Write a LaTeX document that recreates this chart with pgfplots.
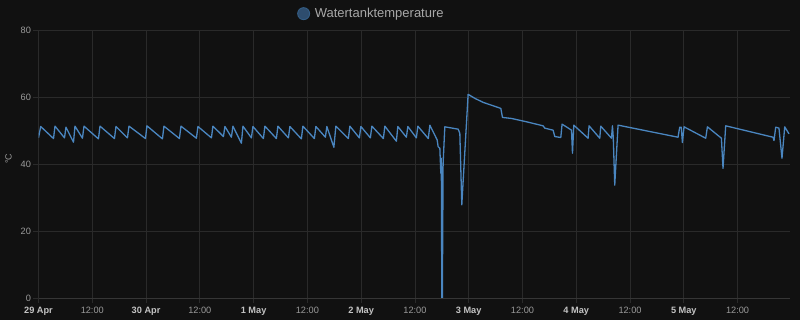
\documentclass[border=0pt]{standalone}
\usepackage{pgfplots}
\pgfplotsset{compat=1.18}
\usepackage{fontspec}
\setmainfont{Liberation Sans}
\definecolor{bgcol}{HTML}{111111}
\definecolor{gridcol}{HTML}{2A2A2A}
\definecolor{axcol}{HTML}{363636}
\definecolor{lineblue}{HTML}{4A86C0}
\definecolor{legfill}{HTML}{2E4D6E}
\definecolor{ticktext}{HTML}{9A9A9A}
\definecolor{datetext}{HTML}{C4C4C4}
\definecolor{legtext}{HTML}{A8A8A8}
\newcommand{\dl}[1]{\textcolor{datetext}{\bfseries #1}}
\begin{document}
\begin{tikzpicture}
\useasboundingbox (0,0) rectangle (800bp,320bp);
\fill[bgcol] (0,0) rectangle (800bp,320bp);
\begin{axis}[
  at={(38.5bp,22bp)}, anchor=south west,
  scale only axis, width=751.5bp, height=268bp,
  xmin=0, xmax=167.7, ymin=0, ymax=80,
  xtick={0,12,...,156},
  xticklabels={\dl{29 Apr},12:00,\dl{30 Apr},12:00,\dl{1 May},12:00,\dl{2 May},12:00,\dl{3 May},12:00,\dl{4 May},12:00,\dl{5 May},12:00},
  ytick={0,20,40,60,80},
  yticklabels={0,20,40,60,80},
  /pgf/number format/assume math mode=true,
  grid=major,
  grid style={color=gridcol, line width=0.8bp},
  axis line style={draw=none},
  tick pos=left,
  tick align=outside,
  major tick length=5bp,
  every tick/.style={color=gridcol, line width=0.8bp},
  extra y ticks={0}, extra y tick labels={},
  extra y tick style={grid style={color=axcol, line width=1bp}},
  tick label style={font=\fontsize{9.2bp}{10bp}\selectfont, text=ticktext},
  xticklabel style={yshift=-1bp},
  yticklabel style={xshift=1bp},
  ylabel={°C},
  ylabel style={at={(axis description cs:-0.0399,0.52)}, anchor=center, font=\fontsize{9bp}{10bp}\selectfont, text=ticktext},
  legend style={at={(0.443,1.061)}, anchor=center, draw=none, fill=none,
    font=\fontsize{13bp}{14bp}\selectfont, text=legtext, inner sep=0pt},
  legend image code/.code={\draw[line width=0.9bp, draw=lineblue!70!black, fill=legfill] (-1bp,0) circle (6bp); \path (7.5bp,0);},
]
\addplot[color=lineblue, line width=1.3bp, line join=round] table {
h v
0 47.8
0.49 51.2
3.35 47.6
3.68 51.3
5.80 47.8
6.13 51.0
7.81 46.5
8.14 51.3
9.81 47.7
10.15 51.3
13.38 47.5
13.72 51.3
16.95 47.6
17.29 51.2
19.85 47.8
20.19 51.3
23.87 47.6
24.20 51.4
27.66 47.5
27.99 51.3
31.45 47.6
31.79 51.3
35.24 47.7
35.58 51.2
38.59 47.8
38.92 51.3
41.27 48.2
41.60 51.2
43.05 48.0
43.39 51.3
45.28 46.2
45.62 51.3
47.51 47.8
47.85 51.2
50.19 47.6
50.52 51.3
53.09 47.6
53.42 51.3
55.77 47.8
56.10 51.2
58.66 47.5
59.00 51.3
61.56 47.6
61.90 51.2
64.02 48.0
64.35 51.2
65.91 45.0
66.36 51.3
69.15 47.6
69.48 51.3
71.60 47.8
71.94 51.2
74.06 47.8
74.39 51.3
76.96 47.6
77.29 51.3
79.86 46.8
80.19 51.2
82.09 48.0
82.42 51.2
84.32 47.8
84.65 51.3
86.99 47.6
87.33 51.6
88.96 47.2
89.18 45.2
89.56 44.7
89.78 37.2
89.89 41.7
90.00 0
90.12 0
90.29 40.2
90.67 51.1
93.64 50.4
94.02 49.2
94.46 27.8
95.87 60.8
97.37 59.6
99.22 58.4
103.17 56.6
103.54 53.9
105.55 53.6
108.90 52.6
112.60 51.4
112.98 50.7
114.83 50.1
115.21 48.2
116.55 47.9
116.84 51.9
118.94 50.1
119.16 43.2
119.45 51.6
122.64 47.7
122.86 51.4
125.25 47.7
125.47 51.3
127.86 47.7
128.08 51.4
128.26 48.0
128.59 33.7
129.33 51.6
142.71 48.0
143.09 51.0
143.43 51.0
143.69 46.4
144.05 51.1
148.89 47.7
149.27 51.1
152.39 47.7
152.75 38.7
153.35 51.4
163.90 48.0
164.13 47.0
164.51 51.0
165.24 50.7
165.91 41.7
166.52 51.1
167.47 49.0
};
\addlegendentry{Watertanktemperature}
\end{axis}
\end{tikzpicture}
\end{document}
